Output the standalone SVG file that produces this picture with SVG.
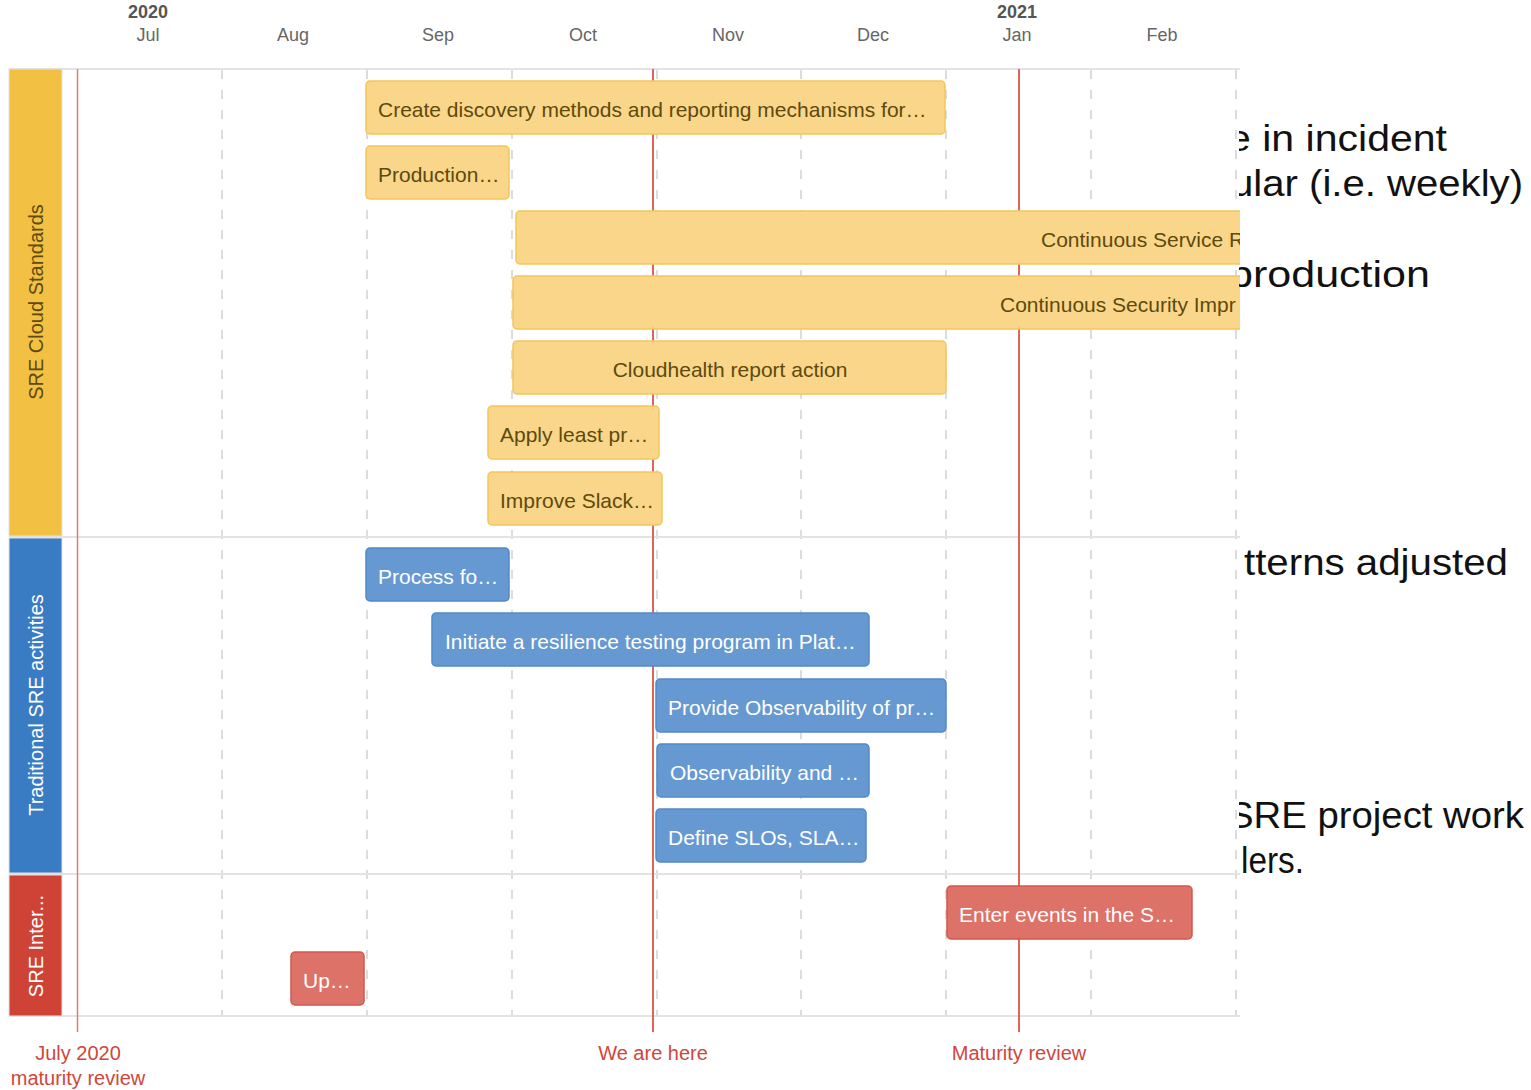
<svg xmlns="http://www.w3.org/2000/svg" width="1531" height="1090" viewBox="0 0 1531 1090">
  <style>
    .hdr { font-family: "Liberation Sans", Arial, sans-serif; font-size: 18px; fill: #666; text-anchor: middle; }
    .yr { font-weight: bold; fill: #555; }
    .lane-t { font-family: "Liberation Sans", Arial, sans-serif; font-size: 20px; text-anchor: middle; }
    .bar { stroke-width: 1.5; }
    .bar-y { fill: #f9d68a; stroke: #f3c65a; }
    .bar-b { fill: #6699d1; stroke: #5289c9; }
    .bar-r { fill: #dd7268; stroke: #d2574c; }
    .lbl { font-family: "Liberation Sans", Arial, sans-serif; font-size: 21px; }
    .lbl-y { fill: #5e4a0c; }
    .lbl-w { fill: #ffffff; }
    .grid { stroke: #e3e3e3; stroke-width: 2; }
    .dash { stroke: #dcdcdc; stroke-width: 2; stroke-dasharray: 9 11; }
    .mark { stroke: #e0645a; stroke-width: 2; }
    .mark-t { font-family: "Liberation Sans", Arial, sans-serif; font-size: 20px; fill: #d0463c; text-anchor: middle; }
    .side { font-family: "Liberation Sans", Arial, sans-serif; font-size: 36px; fill: #111; }
  </style>
  <defs>
    <clipPath id="chartClip"><rect x="0" y="0" width="1240" height="1090"/></clipPath>
    <clipPath id="sideClip"><rect x="1239" y="0" width="292" height="1090"/></clipPath>
  </defs>

  <rect x="0" y="0" width="1531" height="1090" fill="#ffffff"/>

  <!-- time axis header -->
  <g id="axis-header">
    <text class="hdr yr" x="148" y="18">2020</text>
    <text class="hdr" x="148" y="41">Jul</text>
    <text class="hdr" x="293" y="41">Aug</text>
    <text class="hdr" x="438" y="41">Sep</text>
    <text class="hdr" x="583" y="41">Oct</text>
    <text class="hdr" x="728" y="41">Nov</text>
    <text class="hdr" x="873" y="41">Dec</text>
    <text class="hdr yr" x="1017" y="18">2021</text>
    <text class="hdr" x="1017" y="41">Jan</text>
    <text class="hdr" x="1162" y="41">Feb</text>
  </g>

  <g clip-path="url(#chartClip)">
    <!-- grid -->
    <g id="grid">
      <line class="dash" x1="222" y1="70" x2="222" y2="1016"/>
      <line class="dash" x1="367" y1="70" x2="367" y2="1016"/>
      <line class="dash" x1="512" y1="70" x2="512" y2="1016"/>
      <line class="dash" x1="657" y1="70" x2="657" y2="1016"/>
      <line class="dash" x1="801" y1="70" x2="801" y2="1016"/>
      <line class="dash" x1="946" y1="70" x2="946" y2="1016"/>
      <line class="dash" x1="1091" y1="70" x2="1091" y2="1016"/>
      <line class="dash" x1="1236" y1="70" x2="1236" y2="1016"/>
      <line class="grid" x1="9" y1="69" x2="1240" y2="69"/>
      <line class="grid" x1="9" y1="537" x2="1240" y2="537"/>
      <line class="grid" x1="9" y1="874" x2="1240" y2="874"/>
      <line class="grid" x1="9" y1="1016" x2="1240" y2="1016"/>
    </g>

    <!-- milestone markers -->
    <g id="milestones">
      <line x1="77.5" y1="69" x2="77.5" y2="1032" stroke="#e07c74" stroke-width="1.5"/>
      <line class="mark" x1="653" y1="69" x2="653" y2="1032"/>
      <line class="mark" x1="1019" y1="69" x2="1019" y2="1032"/>
    </g>

    <!-- lanes -->
    <g id="lane-cloud-standards">
      <rect x="9" y="69" width="53" height="467" fill="#f2c143" stroke="#e2e2e2" stroke-width="1"/>
      <text class="lane-t" fill="#5e4a0c" transform="translate(36,302) rotate(-90)" y="7">SRE Cloud Standards</text>
    </g>
    <g id="lane-traditional">
      <rect x="9" y="538" width="53" height="335" fill="#3a7cc4" stroke="#e2e2e2" stroke-width="1"/>
      <text class="lane-t" fill="#ffffff" transform="translate(36,705) rotate(-90)" y="7">Traditional SRE activities</text>
    </g>
    <g id="lane-inter">
      <rect x="9" y="875" width="53" height="141" fill="#cf4236" stroke="#e2e2e2" stroke-width="1"/>
      <text class="lane-t" fill="#ffffff" transform="translate(36,946) rotate(-90)" y="7">SRE Inter...</text>
    </g>

    <!-- SRE Cloud Standards items -->
    <g id="task-discovery">
      <rect class="bar bar-y" x="366" y="81" width="579" height="53" rx="4"/>
      <text class="lbl lbl-y" x="378" y="117">Create discovery methods and reporting mechanisms for…</text>
    </g>
    <g id="task-production">
      <rect class="bar bar-y" x="366" y="146" width="143" height="53" rx="4"/>
      <text class="lbl lbl-y" x="378" y="182">Production…</text>
    </g>
    <g id="task-service-review">
      <rect class="bar bar-y" x="516" y="211" width="740" height="53" rx="4"/>
      <text class="lbl lbl-y" x="1041" y="247">Continuous Service R</text>
    </g>
    <g id="task-security">
      <rect class="bar bar-y" x="513" y="276" width="743" height="53" rx="4"/>
      <text class="lbl lbl-y" x="1000" y="312">Continuous Security Impr</text>
    </g>
    <g id="task-cloudhealth">
      <rect class="bar bar-y" x="513" y="341" width="433" height="53" rx="4"/>
      <text class="lbl lbl-y" x="730" y="377" text-anchor="middle">Cloudhealth report action</text>
    </g>
    <g id="task-least-privilege">
      <rect class="bar bar-y" x="488" y="406" width="171" height="53" rx="4"/>
      <text class="lbl lbl-y" x="500" y="442">Apply least pr…</text>
    </g>
    <g id="task-slack">
      <rect class="bar bar-y" x="488" y="472" width="174" height="53" rx="4"/>
      <text class="lbl lbl-y" x="500" y="508">Improve Slack…</text>
    </g>

    <!-- Traditional SRE activities items -->
    <g id="task-process">
      <rect class="bar bar-b" x="366" y="548" width="143" height="53" rx="4"/>
      <text class="lbl lbl-w" x="378" y="584">Process fo…</text>
    </g>
    <g id="task-resilience">
      <rect class="bar bar-b" x="432" y="613" width="437" height="53" rx="4"/>
      <text class="lbl lbl-w" x="445" y="649">Initiate a resilience testing program in Plat…</text>
    </g>
    <g id="task-observability-prod">
      <rect class="bar bar-b" x="656" y="679" width="290" height="53" rx="4"/>
      <text class="lbl lbl-w" x="668" y="715">Provide Observability of pr…</text>
    </g>
    <g id="task-observability">
      <rect class="bar bar-b" x="657" y="744" width="212" height="53" rx="4"/>
      <text class="lbl lbl-w" x="670" y="780">Observability and …</text>
    </g>
    <g id="task-slos">
      <rect class="bar bar-b" x="656" y="809" width="210" height="53" rx="4"/>
      <text class="lbl lbl-w" x="668" y="845">Define SLOs, SLA…</text>
    </g>

    <!-- SRE Inter... items -->
    <g id="task-events">
      <rect class="bar bar-r" x="947" y="886" width="245" height="53" rx="4"/>
      <text class="lbl lbl-w" x="959" y="922">Enter events in the S…</text>
    </g>
    <g id="task-up">
      <rect class="bar bar-r" x="291" y="952" width="73" height="53" rx="4"/>
      <text class="lbl lbl-w" x="303" y="988">Up…</text>
    </g>
  </g>

  <!-- milestone captions -->
  <g id="milestone-labels">
    <text class="mark-t" x="78" y="1060">July 2020</text>
    <text class="mark-t" x="78" y="1085">maturity review</text>
    <text class="mark-t" x="653" y="1060">We are here</text>
    <text class="mark-t" x="1019" y="1060">Maturity review</text>
  </g>

  <!-- side notes, cut at the chart edge -->
  <g id="side-notes" clip-path="url(#sideClip)">
    <text class="side" x="1228" y="151" textLength="219" lengthAdjust="spacingAndGlyphs">e in incident</text>
    <text class="side" x="1231" y="196" textLength="292" lengthAdjust="spacingAndGlyphs">ular (i.e. weekly)</text>
    <text class="side" x="1229" y="287" textLength="201" lengthAdjust="spacingAndGlyphs">production</text>
    <text class="side" x="1244" y="575" textLength="264" lengthAdjust="spacingAndGlyphs">tterns adjusted</text>
    <text class="side" x="1228" y="828" textLength="296" lengthAdjust="spacingAndGlyphs">SRE project work</text>
    <text class="side" x="1241" y="873" textLength="63" lengthAdjust="spacingAndGlyphs">lers.</text>
  </g>
</svg>
